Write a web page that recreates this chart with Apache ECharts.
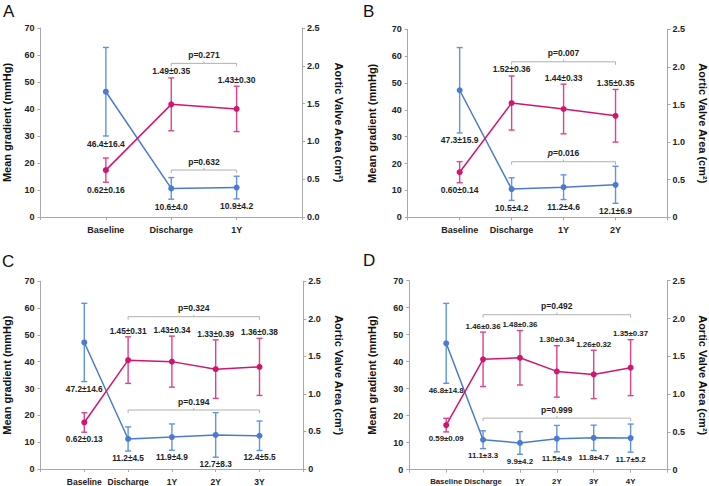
<!DOCTYPE html>
<html><head><meta charset="utf-8">
<script src="https://cdn.jsdelivr.net/npm/echarts@6/dist/echarts.min.js"></script>
<style>html,body{margin:0;padding:0;background:#fff}#c{width:709px;height:486px}</style>
</head><body><div id="c"></div>
<script>
// ---------- data ----------
const catsA = ['Baseline', 'Discharge', '1Y'];
const gradA = [46.4, 10.6, 10.9];
const gradSdA = [16.4, 4.0, 4.2];
const avaA = [0.62, 1.49, 1.43];
const avaSdA = [0.16, 0.35, 0.30];
const pA = ['p=0.271', 'p=0.632'];

const catsB = ['Baseline', 'Discharge', '1Y', '2Y'];
const gradB = [47.3, 10.5, 11.2, 12.1];
const gradSdB = [15.9, 4.2, 4.6, 6.9];
const avaB = [0.60, 1.52, 1.44, 1.35];
const avaSdB = [0.14, 0.36, 0.33, 0.35];
const pB = ['p=0.007', '{i|p}=0.016'];

const catsC = ['Baseline', 'Discharge', '1Y', '2Y', '3Y'];
const gradC = [47.2, 11.2, 11.9, 12.7, 12.4];
const gradSdC = [14.6, 4.5, 4.9, 8.3, 5.5];
const avaC = [0.62, 1.45, 1.43, 1.33, 1.36];
const avaSdC = [0.13, 0.31, 0.34, 0.39, 0.38];
const pC = ['p=0.324', 'p=0.194'];

const catsD = ['Baseline', 'Discharge', '1Y', '2Y', '3Y', '4Y'];
const gradD = [46.8, 11.1, 9.9, 11.5, 11.8, 11.7];
const gradSdD = [14.8, 3.3, 4.2, 4.9, 4.7, 5.2];
const avaD = [0.59, 1.46, 1.48, 1.30, 1.26, 1.35];
const avaSdD = [0.09, 0.36, 0.36, 0.34, 0.32, 0.37];
const pD = ['p=0.492', 'p=0.999'];

const panelLetters = ['A', 'B', 'C', 'D'];
const leftName = 'Mean gradient (mmHg)';
const rightName = 'Aortic Valve Area (cm\u00b2)';

// ---------- layout / style ----------
const FONT = '"Liberation Sans", Arial, sans-serif';
const BLUE = '#4a7bd0', BLUE_ERR = '#5f93e4';
const MAG = '#d0176f', MAG_ERR = '#de4288';
const AXIS = '#a8a8a8';

const panels = [
  {cats: catsA, grad: gradA, gsd: gradSdA, ava: avaA, asd: avaSdA, p: pA,
   grid: {left: 39.5, top: 28, width: 262.5, height: 189}, br: [56.9, 17.4],
   lg: 28.5, rg: 31, zeroFmt: '0.0', letter: {x: 3, y: 3}, cf: 9, lf: 8.5},
  {cats: catsB, grad: gradB, gsd: gradSdB, ava: avaB, asd: avaSdB, p: pB,
   grid: {left: 407.7, top: 29.3, width: 262, height: 188}, br: [57.9, 20.7],
   lg: 30, rg: 29.5, zeroFmt: '0', letter: {x: 363, y: 3}, cf: 9, lf: 8.5},
  {cats: catsC, grad: gradC, gsd: gradSdC, ava: avaC, asd: avaSdC, p: pC,
   grid: {left: 40.3, top: 281.3, width: 263, height: 189.4}, br: [56.8, 22.0],
   lg: 28.5, rg: 30, zeroFmt: '0', letter: {x: 2, y: 253}, cf: 8.5, lf: 8.3},
  {cats: catsD, grad: gradD, gsd: gradSdD, ava: avaD, asd: avaSdD, p: pD,
   grid: {left: 409.3, top: 280.7, width: 260.4, height: 189}, br: [57.4, 19.1],
   lg: 32, rg: 29.5, zeroFmt: '0', letter: {x: 363, y: 252}, cf: 7.8, lf: 7.9}
];

function errRender(color, dec, fs) {
  return function (params, api) {
    const x = api.value(0), m = api.value(1), s = api.value(2), below = api.value(3);
    const t = api.coord([x, m + s]);
    const b = api.coord([x, m - s]);
    const cw = 3;
    const st = {stroke: color, lineWidth: 1.4};
    return {
      type: 'group',
      children: [
        {type: 'line', shape: {x1: t[0], y1: t[1], x2: b[0], y2: b[1]}, style: st},
        {type: 'line', shape: {x1: t[0] - cw, y1: t[1], x2: t[0] + cw, y2: t[1]}, style: st},
        {type: 'line', shape: {x1: b[0] - cw, y1: b[1], x2: b[0] + cw, y2: b[1]}, style: st},
        {type: 'text', z2: 10, style: {
          text: m.toFixed(dec) + '\u00b1' + s.toFixed(dec),
          x: t[0], y: below ? b[1] + 3 : t[1] - 2,
          align: 'center', verticalAlign: below ? 'top' : 'bottom',
          font: 'bold ' + fs + 'px ' + FONT, fill: '#222'
        }}
      ]
    };
  };
}

function bracketRender(texts) {
  return function (params, api) {
    const x1 = api.value(0), x2 = api.value(1), lv = api.value(2);
    const a = api.coord([x1, lv]);
    const b = api.coord([x2, lv]);
    const y = a[1];
    const xm = (a[0] + b[0]) / 2;
    return {
      type: 'group',
      children: [
        {type: 'polyline', shape: {points: [[a[0], y + 3], [a[0], y], [b[0], y], [b[0], y + 3]]},
         style: {stroke: '#b0b0b0', lineWidth: 1, fill: null}},
        {type: 'line', shape: {x1: xm, y1: y, x2: xm, y2: y - 2}, style: {stroke: '#b0b0b0', lineWidth: 1}},
        {type: 'text', style: {
          text: texts[params.dataIndex], x: xm, y: y - 4,
          align: 'center', verticalAlign: 'bottom',
          font: 'bold 8.5px ' + FONT, fill: '#222',
          rich: {i: {fontStyle: 'italic', fontWeight: 'bold', fontSize: 8.5, fontFamily: FONT, fill: '#222'}}
        }}
      ]
    };
  };
}

const option = {animation: false, backgroundColor: '#fff', grid: [], xAxis: [], yAxis: [], series: [], graphic: []};

panels.forEach((P, i) => {
  const n = P.cats.length;
  option.grid.push(Object.assign({containLabel: false}, P.grid));
  option.xAxis.push({
    type: 'category', gridIndex: i, boundaryGap: false,
    data: [''].concat(P.cats).concat(['']),
    axisLine: {lineStyle: {color: AXIS, width: 1}},
    axisTick: {show: true, length: 3, lineStyle: {color: AXIS}},
    axisLabel: {color: '#222', fontWeight: 'bold', fontSize: P.cf, fontFamily: FONT, margin: 8, interval: 0},
    splitLine: {show: false}
  });
  option.yAxis.push({
    type: 'value', gridIndex: i, min: 0, max: 70, interval: 10,
    name: leftName, nameLocation: 'middle', nameGap: P.lg,
    nameTextStyle: {color: '#111', fontWeight: 'bold', fontSize: 11, fontFamily: FONT},
    axisLine: {show: true, lineStyle: {color: AXIS}},
    axisTick: {show: true, length: 3, lineStyle: {color: AXIS}},
    axisLabel: {color: '#222', fontWeight: 'bold', fontSize: 9, fontFamily: FONT, margin: 6},
    splitLine: {show: false}
  });
  option.yAxis.push({
    type: 'value', gridIndex: i, position: 'right', min: 0, max: 2.5, interval: 0.5,
    name: rightName, nameLocation: 'middle', nameGap: P.rg, nameRotate: -90,
    nameTextStyle: {color: '#111', fontWeight: 'bold', fontSize: 11, fontFamily: FONT},
    axisLine: {show: true, lineStyle: {color: AXIS}},
    axisTick: {show: true, length: 3, lineStyle: {color: AXIS}},
    axisLabel: {color: '#222', fontWeight: 'bold', fontSize: 9, fontFamily: FONT, margin: 5,
      formatter: (v) => v === 0 ? P.zeroFmt : v.toFixed(1)},
    splitLine: {show: false}
  });
  const ly = 2 * i, ry = 2 * i + 1;
  // error bars
  option.series.push({
    type: 'custom', xAxisIndex: i, yAxisIndex: ly, z: 2, silent: true,
    renderItem: errRender(BLUE_ERR, 1, P.lf), encode: {x: 0, y: 1},
    data: P.grad.map((v, k) => [k + 1, v, P.gsd[k], 1])
  });
  option.series.push({
    type: 'custom', xAxisIndex: i, yAxisIndex: ry, z: 2, silent: true,
    renderItem: errRender(MAG_ERR, 2, P.lf), encode: {x: 0, y: 1},
    data: P.ava.map((v, k) => [k + 1, v, P.asd[k], k === 0 ? 1 : 0])
  });
  // lines
  option.series.push({
    type: 'line', xAxisIndex: i, yAxisIndex: ly, z: 3,
    data: P.grad.map((v, k) => [k + 1, v]),
    symbol: 'circle', symbolSize: 6, itemStyle: {color: BLUE},
    lineStyle: {color: BLUE, width: 1.5}
  });
  option.series.push({
    type: 'line', xAxisIndex: i, yAxisIndex: ry, z: 3,
    data: P.ava.map((v, k) => [k + 1, v]),
    symbol: 'circle', symbolSize: 6, itemStyle: {color: MAG},
    lineStyle: {color: MAG, width: 1.5}
  });
  // brackets
  option.series.push({
    type: 'custom', xAxisIndex: i, yAxisIndex: ly, z: 4, silent: true,
    renderItem: bracketRender(P.p), encode: {x: 0, y: 2},
    data: [[2, n, P.br[0]], [2, n, P.br[1]]]
  });
  option.graphic.push({
    type: 'text', left: P.letter.x, top: P.letter.y,
    style: {text: panelLetters[i], font: '17px ' + FONT, fill: '#111'}
  });
});

const chart = echarts.init(document.getElementById('c'), null, {renderer: 'svg'});
chart.setOption(option);
</script>
</body></html>
